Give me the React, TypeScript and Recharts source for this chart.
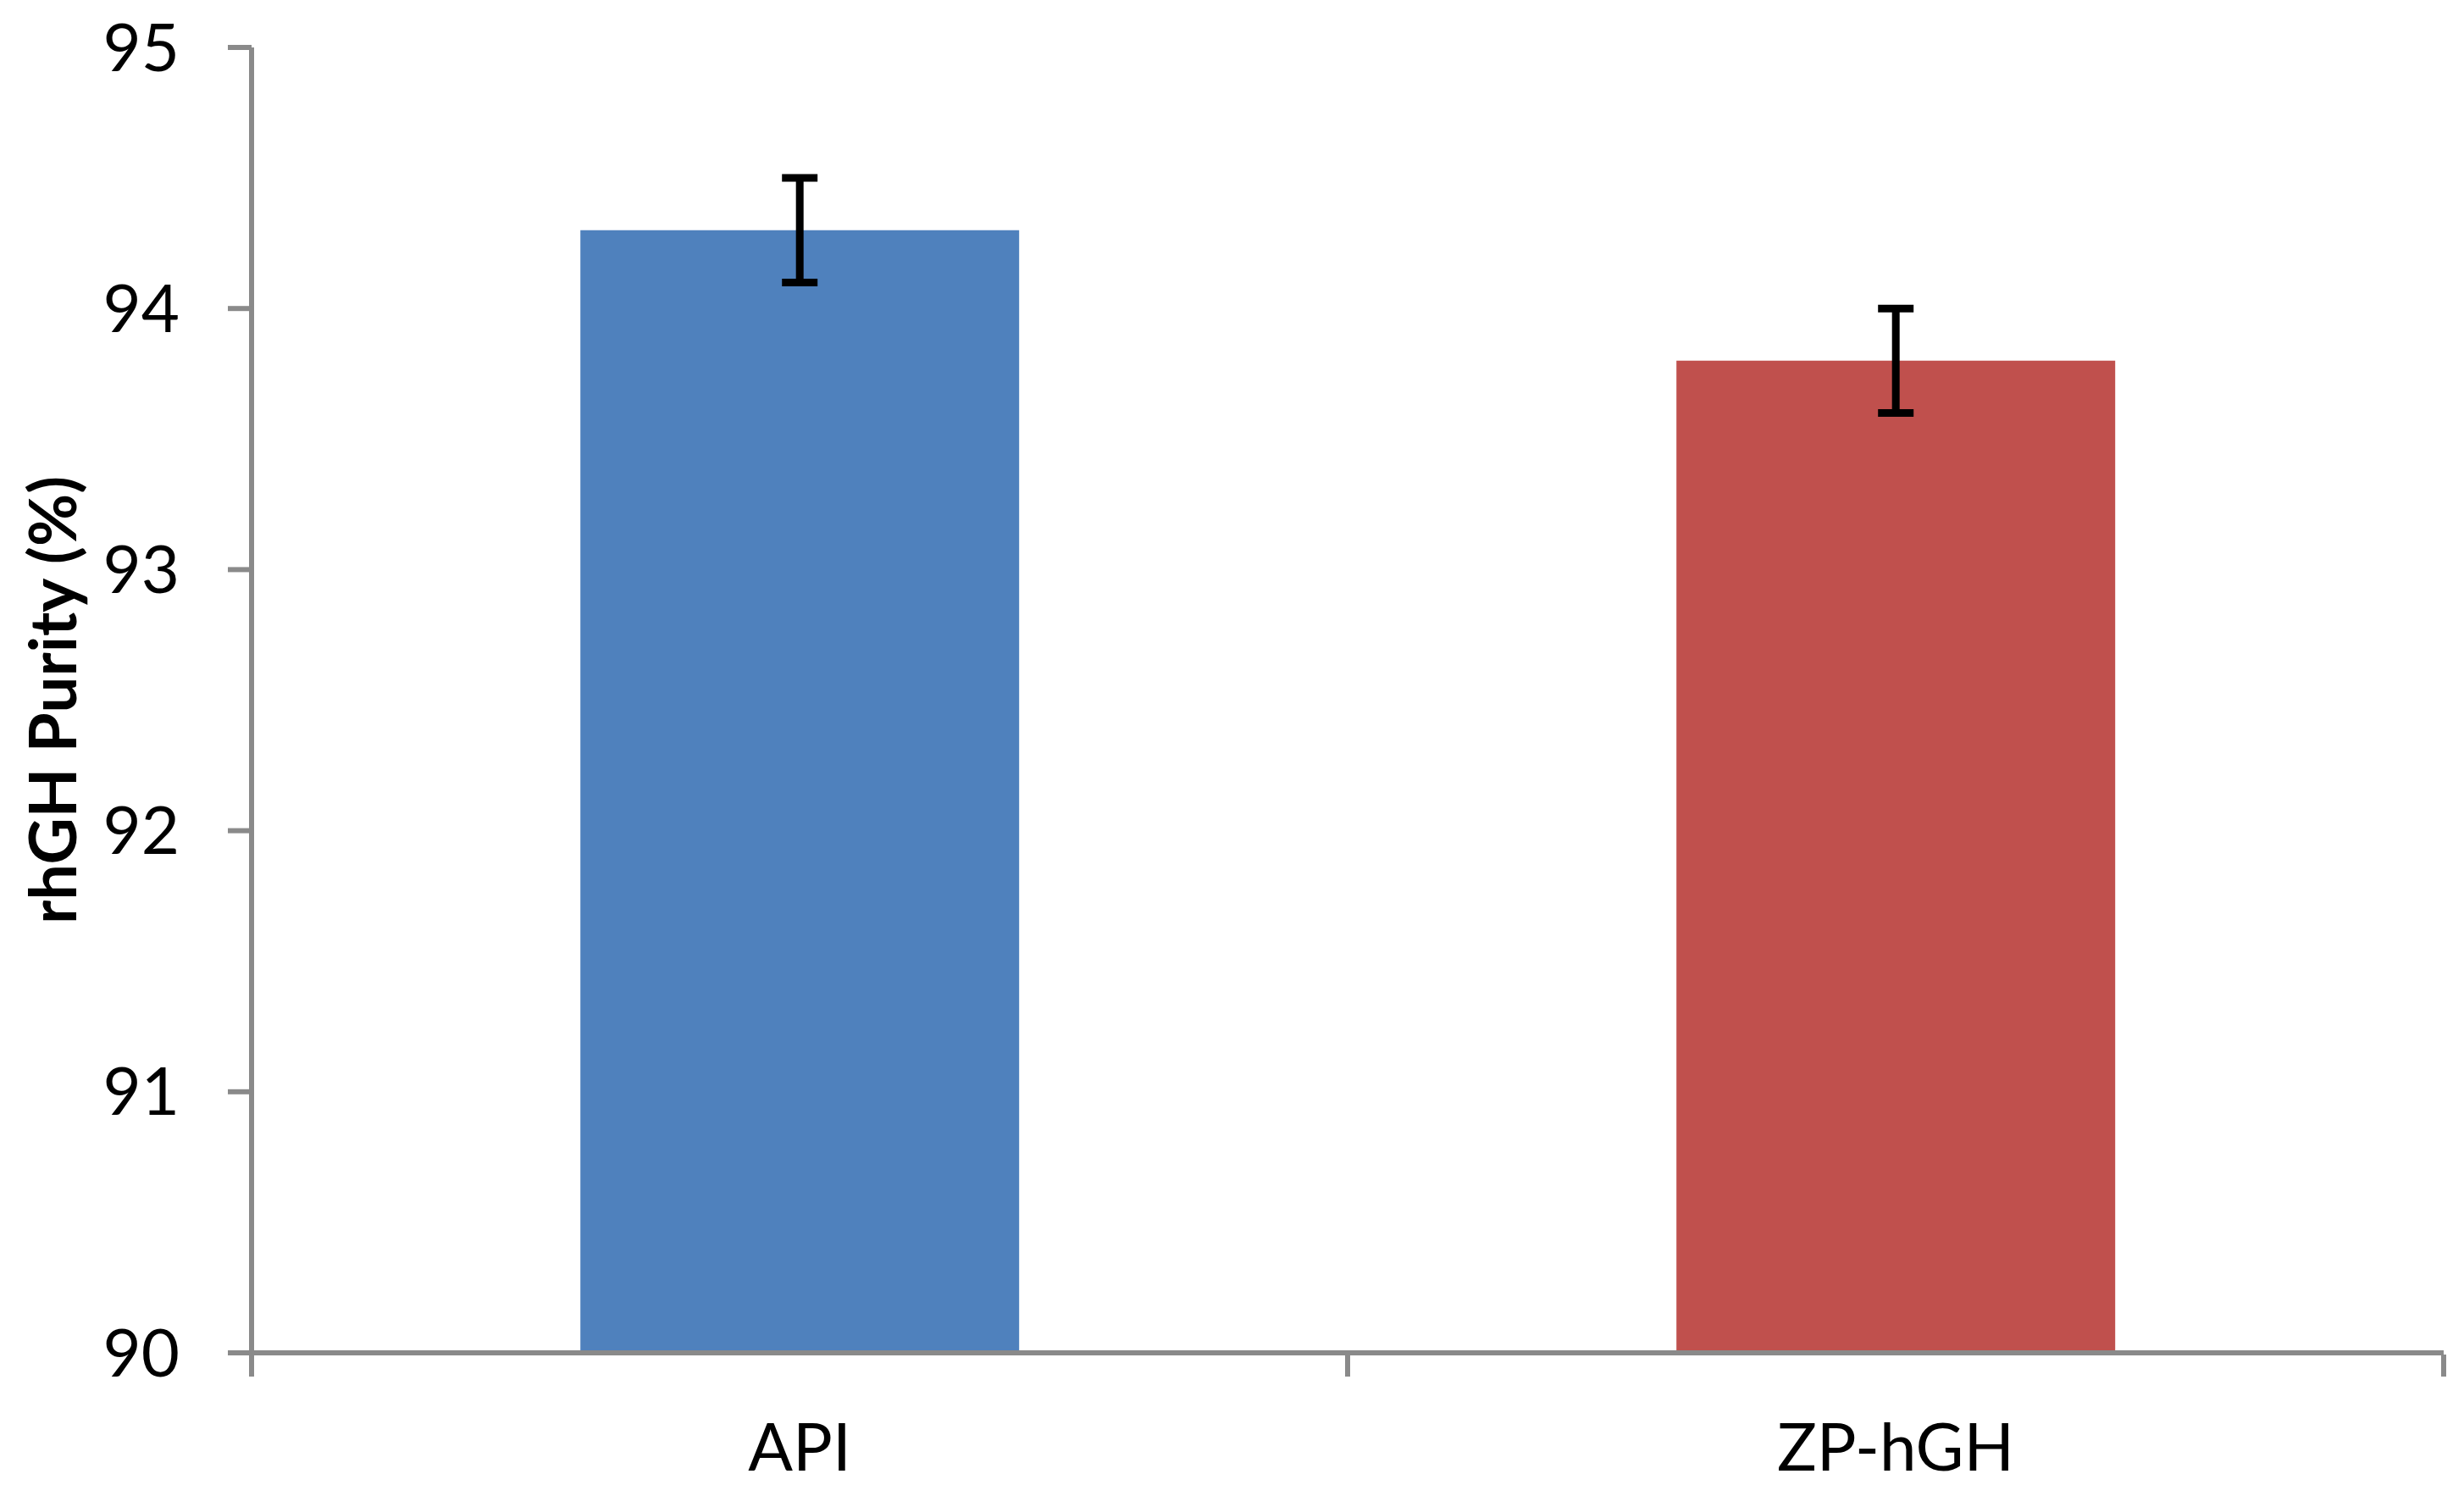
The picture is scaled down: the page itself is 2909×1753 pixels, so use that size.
import React from 'react';
import { BarChart, Bar, XAxis, YAxis, ErrorBar, Cell } from 'recharts';

const categories = ['API', 'ZP-hGH'];
const purity = [94.3, 93.8];
const errors = [0.2, 0.2];
const colors = ['#4F81BD', '#C0504D'];
const yTicks = [90, 91, 92, 93, 94, 95];

const data = categories.map((name, i) => ({ name, purity: purity[i], err: errors[i] }));

const AXIS_COLOR = '#8A8A8A';
const FONT = 'Lato, "Liberation Sans", Arial, sans-serif';

const CategoryTick = (props: any) => {
  const { x, y, payload, index } = props;
  const half = payload && payload.offset ? payload.offset : 0;
  return (
    <g>
      {index === 0 && (
        <line x1={x - half} y1={y} x2={x - half} y2={y + 26} stroke={AXIS_COLOR} strokeWidth={6} />
      )}
      <line x1={x + half} y1={y} x2={x + half} y2={y + 26} stroke={AXIS_COLOR} strokeWidth={6} />
      <text x={x} y={y + 137} textAnchor="middle" fontFamily={FONT} fontSize={78} fill="#000">
        {payload.value}
      </text>
    </g>
  );
};

const YLabel = (props: any) => {
  const { viewBox } = props;
  const cx = viewBox.x + 60;
  const cy = viewBox.y + viewBox.height / 2;
  return (
    <text
      x={cx}
      y={cy}
      transform={`rotate(-90, ${cx}, ${cy})`}
      textAnchor="middle"
      dominantBaseline="central"
      fontFamily={FONT}
      fontWeight="bold"
      fontSize={76}
      fill="#000"
    >
      rhGH Purity (%)
    </text>
  );
};

export default function App() {
  return (
    <div style={{ position: 'absolute', left: 0, top: 0, background: '#fff' }}>
      <BarChart
        width={2909}
        height={1753}
        data={data}
        margin={{ top: 56, right: 24, bottom: 0, left: 0 }}
        barCategoryGap="30%"
      >
        <XAxis
          dataKey="name"
          axisLine={{ stroke: AXIS_COLOR, strokeWidth: 6 }}
          tickLine={false}
          tickSize={0}
          height={156}
          tick={<CategoryTick />}
          interval={0}
        />
        <YAxis
          domain={[90, 95]}
          ticks={yTicks}
          allowDataOverflow
          width={297}
          axisLine={{ stroke: AXIS_COLOR, strokeWidth: 6 }}
          tickLine={{ stroke: AXIS_COLOR, strokeWidth: 6 }}
          tickSize={28}
          tickMargin={57}
          tick={{ fontFamily: FONT, fontSize: 78, fill: '#000' }}
          label={<YLabel />}
        />
        <Bar dataKey="purity" isAnimationActive={false}>
          {data.map((d, i) => (
            <Cell key={d.name} fill={colors[i]} />
          ))}
          <ErrorBar dataKey="err" width={21} stroke="#000" strokeWidth={9} direction="y" />
        </Bar>
      </BarChart>
    </div>
  );
}
